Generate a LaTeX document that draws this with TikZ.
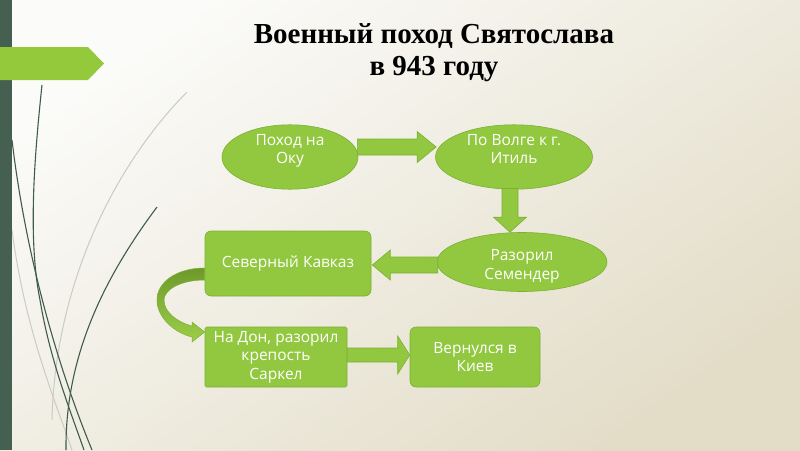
\documentclass[tikz,border=0pt]{standalone}
\usepackage{fontspec}
\setmainfont{Liberation Serif}
\newfontfamily\boxfont{Open Sans}
\usetikzlibrary{shapes.geometric,calc}
\definecolor{gfill}{HTML}{92C83F}
\definecolor{gline}{HTML}{7DAF35}
\definecolor{barc}{HTML}{455F51}
\definecolor{tabc}{HTML}{94C93C}
\definecolor{grassd}{HTML}{3F5C4B}
\definecolor{grassl}{HTML}{C9CCC3}
\definecolor{bgA}{HTML}{FBFBF9}
\definecolor{bgB}{HTML}{E3DDC8}
\definecolor{cdark}{HTML}{6E992B}
\definecolor{clight}{HTML}{9CCF48}
\tikzset{
  shapebox/.style={fill=gfill,draw=gline,line width=0.6pt,text=white,font=\boxfont\fontsize{15.5}{18.5}\selectfont,align=center},
  ellbox/.style={shapebox,ellipse,inner sep=0pt},
  recbox/.style={shapebox,rectangle,rounded corners=6pt,inner sep=0pt},
  arrowbox/.style={fill=gfill,draw=gline,line width=0.6pt},
  grassdark/.style={draw=grassd,line width=1.1pt},
  grasslight/.style={draw=grassl,line width=1pt},
}
% start, end, shaft half width, head half width, head length
\newcommand{\blockarr}[5]{%
  \coordinate (ba-h) at ($(#2)!#5!(#1)$);
  \draw[arrowbox] ($(#1)!#3!90:(#2)$) -- ($(ba-h)!#3!90:(#2)$) -- ($(ba-h)!#4!90:(#2)$) -- (#2)
    -- ($(ba-h)!#4!-90:(#2)$) -- ($(ba-h)!#3!-90:(#2)$) -- ($(#1)!#3!-90:(#2)$) -- cycle;
}
\begin{document}
\begin{tikzpicture}[x=1pt,y=-1pt]
\useasboundingbox (0,0) rectangle (800,450);
% background
\shade[top color=bgA, bottom color=bgB, shading angle=35]
  (0,0) rectangle (800,450);
% grass
\draw[grasslight] (187,92) .. controls (110,170) and (55,290) .. (52,420);
\draw[grasslight] (12,230) .. controls (25,330) and (55,400) .. (72,450);
\draw[grassdark] (42,85) .. controls (34,160) and (28,240) .. (40,300) .. controls (50,360) and (70,410) .. (84,450);
\draw[grassdark] (12,140) .. controls (25,250) and (55,360) .. (92,450);
\draw[grassdark] (157,207) .. controls (110,270) and (65,350) .. (66,450);
% left bar and tab
\fill[barc] (0,0) rectangle (12,450);
\fill[tabc] (0,47) -- (88,47) -- (104,63.5) -- (88,80) -- (0,80) -- cycle;
% title
\node[font=\bfseries\fontsize{29}{32}\selectfont,align=center,text=black] (title) at (434,53)
  {Военный поход Святослава\\в 943 году};
% nodes
\node[ellbox,minimum width=136pt,minimum height=55pt,text depth=16pt] (oka) at (290,157) {Поход на\\Оку};
\node[ellbox,minimum width=157pt,minimum height=57pt,text depth=16pt] (itil) at (514,157) {По Волге к г.\\Итиль};
\node[ellbox,minimum width=170pt,minimum height=57pt,text height=38pt] (sem) at (522,262) {Разорил\\Семендер};
\node[recbox,minimum width=166pt,minimum height=65pt] (kav) at (288,263.5) {Северный Кавказ};
\node[recbox,rounded corners=1.5pt,minimum width=142pt,minimum height=60pt] (don) at (276,357) {На Дон, разорил\\крепость\\Саркел};
\node[recbox,minimum width=130pt,minimum height=60pt] (kiev) at (475,357) {Вернулся в\\Киев};
% arrow end points
\coordinate (a1s) at ($(oka.east)+(-1,-10)$);
\coordinate (a1e) at ($(itil.west)+(1,-10)$);
\coordinate (a2s) at ($(itil.south)+(-4,-1)$);
\coordinate (a2e) at ($(sem.north)+(-12,0)$);
\coordinate (a3s) at ($(sem.west)+(1,3)$);
\coordinate (a3e) at ($(kav.east)+(1,1.5)$);
\coordinate (a4s) at ($(don.east)+(0,-2)$);
\coordinate (a4e) at ($(kiev.west)+(0,-2)$);
\blockarr{a1s}{a1e}{8pt}{15.5pt}{19pt}
\blockarr{a2s}{a2e}{8pt}{16.5pt}{15pt}
\blockarr{a3s}{a3e}{8pt}{15pt}{18pt}
\blockarr{a4s}{a4e}{7pt}{19pt}{12pt}
% curved arrow from kav to don
\coordinate (c1) at ($(kav.west)+(0,4.5)$);
\coordinate (c2) at ($(kav.west)+(0,16.5)$);
\coordinate (ct) at ($(don.west)+(0,-25)$);
\shade[top color=cdark, bottom color=clight, draw=gline, line width=0.5pt]
  (c1) .. controls +(-28,0) and (157,282) .. (157,300)
  .. controls (157,318) and (175,333) .. (192,337)
  -- (192,342) -- (ct) -- (192,322) -- (192,326)
  .. controls (177,322) and (164,312) .. (164,300)
  .. controls (164,290) and (180,280) .. (c2) -- cycle;
\end{tikzpicture}
\end{document}
